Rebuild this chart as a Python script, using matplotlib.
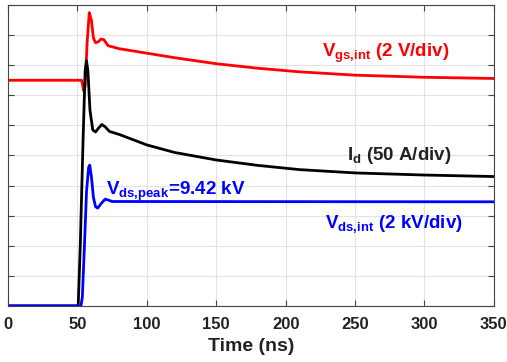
import matplotlib
matplotlib.use("Agg")
from matplotlib import pyplot as plt

plt.rcParams['font.family'] = ['Liberation Sans', 'DejaVu Sans']
plt.rcParams['font.weight'] = 'bold'
plt.rcParams['mathtext.fontset'] = 'custom'
plt.rcParams['mathtext.rm'] = 'Liberation Sans:bold'
plt.rcParams['mathtext.bf'] = 'Liberation Sans:bold'
plt.rcParams['mathtext.it'] = 'Liberation Sans:bold'

# time (ns) and values in divisions
t_vgs = [0, 50, 53, 54.5, 55.5, 57, 58.5, 60, 61.5, 63, 65, 67, 69, 72, 80, 100, 120, 150, 180, 210, 250, 300, 350]
vgs = [7.5, 7.5, 7.5, 7.15, 7.3, 8.8, 9.75, 9.5, 8.9, 8.75, 8.78, 8.87, 8.85, 8.65, 8.55, 8.4, 8.25, 8.05, 7.9, 7.78, 7.67, 7.6, 7.56]

t_id = [0, 50.5, 52, 54, 55.5, 56.5, 57.5, 59, 61, 63, 65, 67.5, 70, 73, 80, 100, 120, 150, 180, 210, 250, 300, 350]
i_d = [0, 0, 2, 5.5, 7.8, 8.15, 7.8, 6.5, 5.85, 5.78, 5.9, 6.03, 5.95, 5.8, 5.7, 5.35, 5.1, 4.85, 4.67, 4.53, 4.42, 4.35, 4.3]

t_vds = [0, 52.5, 53.5, 55, 56.5, 58, 58.8, 60, 61.5, 63, 64.5, 67, 70, 72, 75, 80, 350]
vds = [0, 0, 0.3, 2, 3.8, 4.6, 4.68, 4.3, 3.6, 3.3, 3.25, 3.4, 3.55, 3.52, 3.47, 3.47, 3.46]

x_ticks = [0, 50, 100, 150, 200, 250, 300, 350]

fig = plt.figure(figsize=(5.07, 3.62), dpi=100)
ax = fig.add_axes([0.016, 0.155, 0.958, 0.831])

ax.plot(t_vgs, vgs, color='#ff0000', lw=2)
ax.plot(t_id, i_d, color='black', lw=2)
ax.plot(t_vds, vds, color='#0000ff', lw=2)

ax.set_xlim(0, 350)
ax.set_ylim(0, 10)
ax.set_xticks(x_ticks)
ax.set_yticks(range(11))
ax.set_yticklabels([])
ax.tick_params(direction='in', top=True, right=True, length=4, color='#444444', labelsize=12, pad=8)
for lb in ax.get_xticklabels():
    lb.set_fontweight('bold')
    lb.set_color('#222222')
ax.grid(True, color='#e3e3e3', lw=0.8)
ax.set_axisbelow(True)
for s in ax.spines.values():
    s.set_color('#444444')
    s.set_linewidth(0.8)
ax.set_xlabel('Time (ns)', fontsize=14, fontweight='bold', color='#222222', labelpad=4)

fs = 13.5
ax.text(226, 8.28, r'$\mathrm{V_{gs{,}int}}$ (2 V/div)', color='#ff0000', fontsize=fs, fontweight='bold')
ax.text(244, 4.85, r'$\mathrm{I_{d}}$ (50 A/div)', color='#222222', fontsize=fs, fontweight='bold')
ax.text(228, 2.59, r'$\mathrm{V_{ds{,}int}}$ (2 kV/div)', color='#0000ff', fontsize=fs, fontweight='bold')
ax.text(70.5, 3.69, r'$\mathrm{V_{ds{,}peak}}$=9.42 kV', color='#0000ff', fontsize=fs, fontweight='bold')

fig.savefig('out.png', dpi=100)
